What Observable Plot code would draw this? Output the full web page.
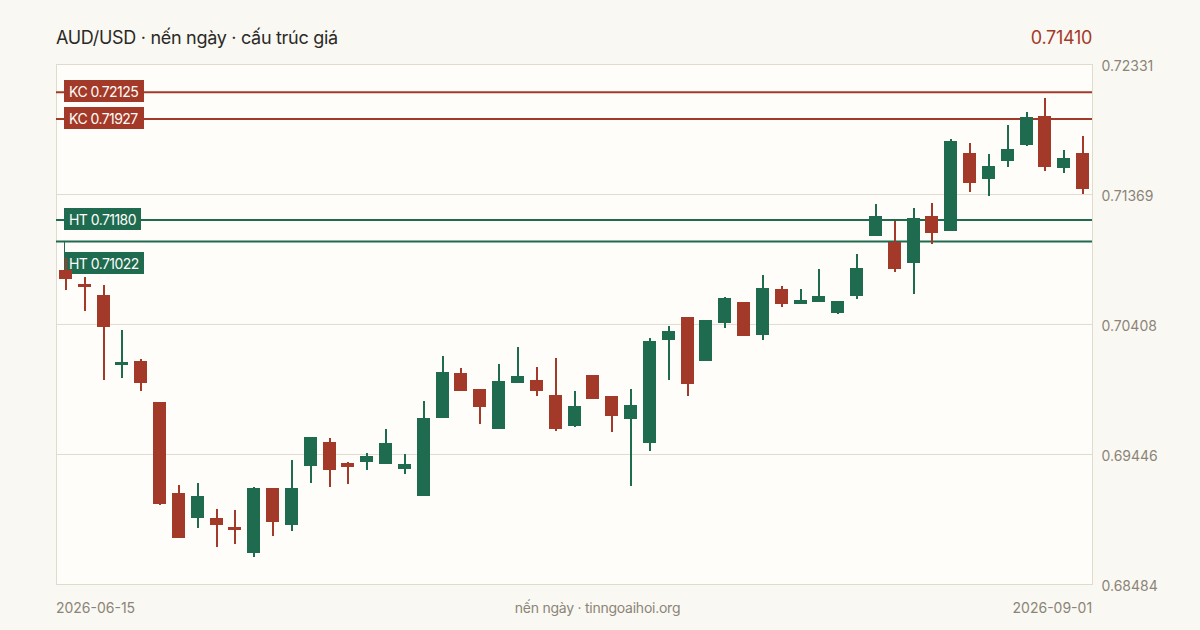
<!DOCTYPE html>
<html lang="vi">
<head>
<meta charset="utf-8">
<script src="https://cdn.jsdelivr.net/npm/d3@7"></script>
<script src="https://cdn.jsdelivr.net/npm/@observablehq/plot@0.6"></script>
<style>
html,body{margin:0;padding:0;width:1200px;height:630px;overflow:hidden;background:#faf8f3;font-family:Inter,sans-serif;}
#head{height:54px;box-sizing:border-box;padding:0 108px 0 56px;display:flex;justify-content:space-between;align-items:center;padding-top:20px;font-size:18px;letter-spacing:-.3px;color:#2b2a26;}
#head .last{color:#a33a29;}
svg{display:block;}
</style>
</head>
<body>
<div id="head"><span>AUD/USD · nến ngày · cấu trúc giá</span><span class="last">0.71410</span></div>
<div id="chart"></div>
<script>
const opens  = [.70811,.70707,.70626,.70108,.70138,.69834,.69161,.68976,.68976,.68909,.68717,.69198,.68924,.69361,.69538,.69383,.69390,.69375,.69338,.69139,.69716,.70049,.69930,.69634,.69975,.69997,.69886,.69657,.70034,.69878,.69708,.69531,.70293,.70463,.70138,.70419,.70574,.70330,.70670,.70559,.70574,.70493,.70618,.71062,.71018,.70862,.71210,.71099,.71676,.71484,.71617,.71735,.71950,.71565,.71676];
const highs  = [.70900,.70759,.70700,.70367,.70152,.69834,.69220,.69235,.69042,.69035,.69205,.69198,.69405,.69575,.69568,.69390,.69457,.69634,.69449,.69842,.70174,.70086,.69930,.70115,.70241,.70093,.70160,.69916,.70034,.69878,.69930,.70308,.70396,.70463,.70441,.70611,.70574,.70774,.70692,.70670,.70818,.70581,.70929,.71299,.71173,.71269,.71306,.71780,.71750,.71669,.71883,.71980,.72083,.71698,.71802];
const lows   = [.70663,.70507,.69997,.70012,.69916,.69072,.68828,.68902,.68761,.68784,.68687,.68843,.68880,.69235,.69205,.69228,.69331,.69375,.69301,.69139,.69716,.69916,.69671,.69634,.69975,.69878,.69620,.69649,.69856,.69612,.69213,.69472,.69997,.69878,.70138,.70382,.70322,.70293,.70537,.70559,.70574,.70485,.70596,.71062,.70796,.70633,.71003,.71099,.71388,.71358,.71573,.71728,.71543,.71528,.71373];
const closes = [.70744,.70685,.70391,.70130,.69975,.69080,.68828,.69139,.68924,.68887,.69198,.68946,.69198,.69575,.69331,.69353,.69435,.69531,.69375,.69716,.70056,.69916,.69797,.69989,.70026,.69916,.69634,.69805,.69856,.69731,.69812,.70285,.70359,.69967,.70441,.70604,.70322,.70678,.70559,.70589,.70618,.70581,.70825,.71210,.70818,.71195,.71084,.71765,.71454,.71580,.71706,.71943,.71573,.71639,.71410];
const resistance = [.72125,.71927];
const support = [.71180,.71022];
const yTicks = [.72331,.71369,.70408,.69446,.68484];
const dateLabels = ["2026-06-15","2026-09-01"];
const caption = "nến ngày · tinngoaihoi.org";

const RED="#a33a29", GREEN="#1e6b50", GRID="#e0dbcc", MUTED="#8a8578", PANEL="#fffdf9";
const idx = opens.map((_,i)=>i);
const candles = idx.map(i=>({i,o:opens[i],h:highs[i],l:lows[i],c:closes[i],col:closes[i]>=opens[i]?GREEN:RED}));
const lastI = idx[idx.length-1];
const levels = [
  ...resistance.map(v=>({v,label:"KC "+v.toFixed(5),col:RED,shift:0})),
  ...support.map((v,k)=>({v,label:"HT "+v.toFixed(5),col:GREEN,shift:k===1?23:0}))
];
const tag = name => (index,scales,values,dims,ctx,next)=>{const g=next(index,scales,values,dims,ctx);g.setAttribute("class",name);return g;};
const plot = Plot.plot({
  width:1200,height:576,marginLeft:56,marginRight:108,marginTop:10,marginBottom:46,
  style:{background:"transparent",fontFamily:"Inter,sans-serif",overflow:"visible"},
  x:{type:"band",domain:idx,paddingInner:0.3,paddingOuter:0.15,align:0.5,axis:null},
  y:{domain:[yTicks[yTicks.length-1],yTicks[0]],axis:null},
  marks:[
    Plot.frame({fill:PANEL,stroke:null}),
    Plot.gridY(yTicks.slice(1,-1),{stroke:GRID,strokeOpacity:1,strokeWidth:1}),
    Plot.frame({stroke:GRID,strokeWidth:1}),
    Plot.ruleY(levels,{y:"v",stroke:"col",strokeWidth:2}),
    Plot.text(levels.filter(d=>!d.shift),{y:"v",text:"label",frameAnchor:"left",textAnchor:"start",dx:12.5,dy:0,fill:PANEL,fontSize:14,fontVariant:"normal",render:tag("lvl")}),
    Plot.text(levels.filter(d=>d.shift),{y:"v",text:"label",frameAnchor:"left",textAnchor:"start",dx:12.5,dy:23,fill:PANEL,fontSize:14,fontVariant:"normal",render:tag("lvl")}),
    Plot.rectY(candles,{x:"i",y1:"l",y2:"h",fill:"col",insetLeft:6,insetRight:5.18,dx:.1,dy:.5,shapeRendering:"crispEdges"}),
    Plot.rectY(candles,{x:"i",y1:"o",y2:"c",fill:"col",insetRight:.18,dx:.1,dy:.5,shapeRendering:"crispEdges"}),
    Plot.axisY(yTicks,{anchor:"right",tickSize:0,tickPadding:9,dy:2,tickFormat:d=>d.toFixed(5),fill:MUTED,fontSize:14,fontVariant:"normal",label:null}),
    Plot.axisX([0],{anchor:"bottom",tickSize:0,tickPadding:19,tickFormat:()=>dateLabels[0],textAnchor:"start",dx:-10,fill:MUTED,fontSize:14,fontVariant:"normal",label:null}),
    Plot.axisX([lastI],{anchor:"bottom",tickSize:0,tickPadding:19,tickFormat:()=>dateLabels[1],textAnchor:"end",dx:9,fill:MUTED,fontSize:14,fontVariant:"normal",label:null}),
    Plot.text([caption],{frameAnchor:"bottom",dx:23,dy:28,fill:MUTED,fontSize:14,render:tag("cap")})
  ]
});
document.getElementById("chart").append(plot);
plot.querySelectorAll("g.cap text").forEach(t=>t.style.letterSpacing="-0.25px");
// Backing plates for the level labels, sized from the rendered text.
const yScale = plot.scale("y");
const ns="http://www.w3.org/2000/svg";
const texts=[...plot.querySelectorAll("g.lvl text")];
const ordered=[levels.filter(d=>!d.shift),levels.filter(d=>d.shift)].flat();
texts.forEach((t,k)=>{
  t.style.letterSpacing="-0.55px";
  const d=ordered[k], b=t.getBBox(), ctm=t.getCTM();
  const left=b.x+ctm.e-5, top=Math.round(yScale.apply(d.v))-12+d.shift;
  const r=document.createElementNS(ns,"rect");
  r.setAttribute("x",Math.floor(left));r.setAttribute("y",top);
  r.setAttribute("width",Math.ceil(b.width+10));r.setAttribute("height",22);r.setAttribute("fill",d.col);
  const host=t.parentNode;
  const ctmHost=host.getCTM();
  r.setAttribute("transform",`translate(${-ctmHost.e},${-ctmHost.f})`);
  host.insertBefore(r,t);
  if(d.shift){
    const l=document.createElementNS(ns,"line"), y0=yScale.apply(d.v);
    l.setAttribute("x1",Math.floor(left)+.5);l.setAttribute("x2",Math.floor(left)+.5);
    l.setAttribute("y1",y0);l.setAttribute("y2",top);
    l.setAttribute("stroke",d.col);l.setAttribute("stroke-width",1);
    l.setAttribute("transform",`translate(${-ctmHost.e},${-ctmHost.f})`);
    host.insertBefore(l,r);
  }
});
</script>
</body>
</html>
